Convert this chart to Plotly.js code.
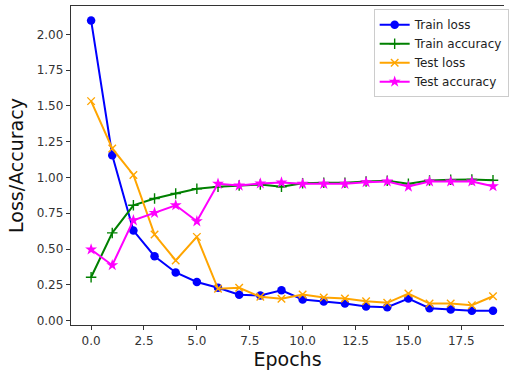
<!DOCTYPE html>
<html><head><meta charset="utf-8">
<script src="https://cdn.plot.ly/plotly-3.0.1.min.js"></script>
<style>html,body{margin:0;padding:0;background:#fff}#chart{width:509px;height:372px}</style>
</head><body><div id="chart"></div>
<script>
const epochs = [0,1,2,3,4,5,6,7,8,9,10,11,12,13,14,15,16,17,18,19];
const trainLoss = [2.098,1.156,0.629,0.450,0.336,0.270,0.229,0.180,0.175,0.212,0.147,0.133,0.119,0.098,0.093,0.154,0.086,0.077,0.068,0.068];
const trainAcc = [0.303,0.613,0.806,0.853,0.888,0.921,0.935,0.945,0.951,0.935,0.960,0.963,0.963,0.972,0.977,0.956,0.979,0.984,0.986,0.981];
const testLoss = [1.534,1.203,1.018,0.601,0.420,0.585,0.222,0.229,0.166,0.152,0.182,0.161,0.154,0.135,0.124,0.189,0.119,0.119,0.107,0.170];
const testAcc = [0.497,0.387,0.701,0.753,0.806,0.694,0.956,0.944,0.958,0.965,0.956,0.956,0.956,0.967,0.972,0.937,0.972,0.972,0.972,0.939];
const names = ["Train loss","Train accuracy","Test loss","Test accuracy"];
const xTicks = [0,2.5,5,7.5,10,12.5,15,17.5];
const yTicks = [0,0.25,0.5,0.75,1,1.25,1.5,1.75,2];

const font = "DejaVu Sans, sans-serif";
const traces = [
  {x: epochs, y: trainLoss, name: names[0], mode: "lines+markers",
   line: {color: "blue", width: 2}, marker: {symbol: "circle", size: 8.5, color: "blue"}},
  {x: epochs, y: trainAcc, name: names[1], mode: "lines+markers",
   line: {color: "green", width: 2}, marker: {symbol: "cross-thin-open", size: 7.5, color: "green", line: {color: "green", width: 1.4}}},
  {x: epochs, y: testLoss, name: names[2], mode: "lines+markers",
   line: {color: "orange", width: 2}, marker: {symbol: "x-thin-open", size: 7.5, color: "orange", line: {color: "orange", width: 1.4}}},
  {x: epochs, y: testAcc, name: names[3], mode: "lines+markers",
   line: {color: "magenta", width: 2}, marker: {symbol: "star", size: 9, color: "magenta"}}
];
const layout = {
  width: 509, height: 372,
  margin: {l: 71, r: 0, t: 6, b: 47},
  paper_bgcolor: "#fff", plot_bgcolor: "#fff",
  font: {family: font, size: 12, color: "#222"},
  showlegend: true,
  legend: {x: 0.699, y: 0.99, xanchor: "left", yanchor: "top",
    bgcolor: "rgba(255,255,255,0.8)", bordercolor: "#ccc", borderwidth: 1,
    font: {family: font, size: 12, color: "#222"}},
  xaxis: {range: [-0.95, 19.52], tickvals: xTicks, tickformat: ".1f",
    showgrid: false, zeroline: false, showline: true, linecolor: "#333", linewidth: 1.2,
    mirror: true, ticks: "outside", ticklen: 4, tickcolor: "#333",
    tickfont: {family: font, size: 12, color: "#333"},
    title: {text: "Epochs", font: {family: font, size: 19, color: "#111"}, standoff: 5}},
  yaxis: {range: [-0.031, 2.199], tickvals: yTicks, tickformat: ".2f",
    showgrid: false, zeroline: false, showline: true, linecolor: "#333", linewidth: 1.2,
    ticks: "outside", ticklen: 4, tickcolor: "#333",
    tickfont: {family: font, size: 12, color: "#333"},
    title: {text: "Loss/Accuracy", font: {family: font, size: 19, color: "#111"}, standoff: 8}}
};
Plotly.newPlot("chart", traces, layout, {displayModeBar: false, staticPlot: true});
</script></body></html>
